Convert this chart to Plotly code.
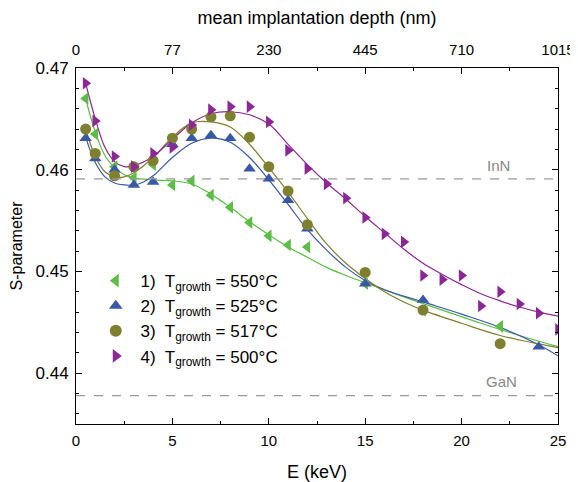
import plotly.graph_objects as go

# measured points (E in keV, S-parameter)
e_550 = [0.5, 1, 2, 3, 4, 5, 6, 7, 8, 9, 10, 11, 12, 15, 18, 22]
s_550 = [0.4670, 0.4635, 0.4603, 0.4592, 0.4605, 0.4585, 0.4589, 0.4575, 0.4563, 0.4548,
         0.4535, 0.4526, 0.4524, 0.4488, 0.4462, 0.4446]

e_525 = [0.5, 1, 2, 3, 4, 5, 6, 7, 8, 9, 10, 11, 12, 15, 18, 24]
s_525 = [0.4631, 0.4611, 0.4600, 0.4585, 0.4588, 0.4625, 0.4631, 0.4634, 0.4631, 0.4601,
         0.4591, 0.4570, 0.4542, 0.4488, 0.4472, 0.4426]

e_517 = [0.5, 1, 2, 3, 4, 5, 6, 7, 8, 9, 10, 11, 12, 15, 18, 22]
s_517 = [0.4640, 0.4616, 0.4594, 0.4603, 0.4609, 0.4631, 0.4640, 0.4652, 0.4653, 0.4632,
         0.4603, 0.4579, 0.4546, 0.4499, 0.4462, 0.4429]

e_500 = [0.5, 1, 2, 3, 4, 5, 6, 7, 8, 9, 10, 11, 12, 13, 14, 15, 16, 17, 18, 19, 20, 21,
         22, 23, 24, 25]
s_500 = [0.4685, 0.4648, 0.4613, 0.4603, 0.4616, 0.4622, 0.4644, 0.4659, 0.4662, 0.4662,
         0.4647, 0.4619, 0.4601, 0.4586, 0.4572, 0.4553, 0.4537, 0.4529, 0.4496, 0.4492,
         0.4496, 0.4466, 0.4480, 0.4468, 0.4459, 0.4443]

# fitted curves
fit_e_550 = [0.5, 1, 1.5, 2, 2.5, 3, 4, 5, 6, 7, 8, 9, 10, 11, 12, 13, 14, 15, 17, 19, 21, 23, 25]
fit_s_550 = [0.4670, 0.4637, 0.4614, 0.4602, 0.4595, 0.4592, 0.4590, 0.4589, 0.4586, 0.4576,
             0.4563, 0.4549, 0.4536, 0.4524, 0.4514, 0.4504, 0.4496, 0.4489, 0.4475, 0.4462,
             0.4449, 0.4437, 0.4426]

fit_e_525 = [0.5, 1, 1.5, 2, 2.5, 3, 3.5, 4, 5, 6, 7, 8, 9, 10, 11, 12, 13, 14, 15, 16, 18,
             20, 22, 24, 25]
fit_s_525 = [0.4632, 0.4607, 0.4593, 0.4587, 0.4585, 0.4585, 0.4588, 0.4594, 0.4612, 0.4626,
             0.4631, 0.4627, 0.4612, 0.4590, 0.4566, 0.4541, 0.4521, 0.4504, 0.4491, 0.4482,
             0.4470, 0.4458, 0.4445, 0.4428, 0.4417]

fit_e_517 = [0.5, 1, 1.5, 2, 2.5, 3, 4, 5, 6, 7, 8, 9, 10, 11, 12, 13, 14, 15, 16, 17, 18,
             20, 22, 25]
fit_s_517 = [0.4640, 0.4613, 0.4598, 0.4593, 0.4593, 0.4597, 0.4612, 0.4632, 0.4646, 0.4647,
             0.4642, 0.4625, 0.4602, 0.4578, 0.4552, 0.4527, 0.4508, 0.4493, 0.4480, 0.4470,
             0.4462, 0.4449, 0.4437, 0.4425]

fit_e_500 = [0.5, 1, 1.5, 2, 2.5, 3, 4, 5, 6, 7, 8, 9, 10, 11, 12, 13, 14, 15, 16, 17, 18,
             19, 20, 21, 22, 23, 24, 25]
fit_s_500 = [0.4685, 0.4650, 0.4622, 0.4608, 0.4603, 0.4604, 0.4613, 0.4630, 0.4646, 0.4655,
             0.4657, 0.4654, 0.4645, 0.4625, 0.4605, 0.4587, 0.4571, 0.4554, 0.4538, 0.4522,
             0.4508, 0.4497, 0.4487, 0.4478, 0.4471, 0.4465, 0.4460, 0.4456]

s_inn = 0.4591
s_gan = 0.43778

e_ticks = [0, 5, 10, 15, 20, 25]
depth_labels = ["0", "77", "230", "445", "710", "1015"]
s_ticks = [0.44, 0.45, 0.46, 0.47]

series = [
    ("\u00a01)  T<sub>growth</sub> = 550°C", "#5cbe46", "triangle-left", e_550, s_550, fit_e_550, fit_s_550),
    ("\u00a02)  T<sub>growth</sub> = 525°C", "#3a58a8", "triangle-up", e_525, s_525, fit_e_525, fit_s_525),
    ("\u00a03)  T<sub>growth</sub> = 517°C", "#7f7f30", "circle", e_517, s_517, fit_e_517, fit_s_517),
    ("\u00a04)  T<sub>growth</sub> = 500°C", "#8c2896", "triangle-right", e_500, s_500, fit_e_500, fit_s_500),
]

fig = go.Figure()

for name, col, sym, ex, sx, fx, fs in series:
    fig.add_trace(go.Scatter(x=fx, y=fs, mode="lines", line=dict(color=col, width=1.2, shape="spline"),
                             showlegend=False, hoverinfo="skip"))
for name, col, sym, ex, sx, fx, fs in series:
    fig.add_trace(go.Scatter(x=ex, y=sx, mode="markers", name=name,
                             marker=dict(symbol=sym, color=col, size=11, line=dict(width=0))))

# invisible traces so the top and right axes get drawn
fig.add_trace(go.Scatter(x=[0, 25], y=[s_gan, s_gan], xaxis="x2", mode="markers",
                         marker=dict(opacity=0), showlegend=False, hoverinfo="skip"))
fig.add_trace(go.Scatter(x=[0], y=[s_gan], yaxis="y2", mode="markers", marker=dict(opacity=0),
                         showlegend=False, hoverinfo="skip"))

for yv in [s_inn, s_gan]:
    fig.add_shape(type="line", xref="paper", x0=0, x1=1, yref="y", y0=yv, y1=yv,
                  line=dict(color="#999999", width=1.2, dash="dash"))

fig.add_annotation(x=22.6, y=s_inn, text="InN", showarrow=False, xanchor="right", yanchor="bottom",
                   yshift=3, font=dict(size=15, color="#888888"))
fig.add_annotation(x=23.0, y=s_gan, text="GaN", showarrow=False, xanchor="right", yanchor="bottom",
                   yshift=4, font=dict(size=15, color="#888888"))

axis_common = dict(showline=True, linecolor="black", linewidth=1, ticks="inside", ticklen=6,
                   tickcolor="black", showgrid=False, zeroline=False, mirror=False, automargin=False)
minor_x = dict(dtick=2.5, ticks="inside", ticklen=3, tickcolor="black")
minor_y = dict(dtick=0.002, ticks="inside", ticklen=3, tickcolor="black")

# page body has an 8px margin, so the figure is a bit smaller than the window
fig.update_layout(
    width=570, height=474,
    margin=dict(l=68, r=20, t=60, b=58),
    paper_bgcolor="white", plot_bgcolor="white",
    font=dict(family="Liberation Sans, Arial, sans-serif", size=15, color="black"),
    xaxis=dict(range=[0, 25], tickvals=e_ticks, title=dict(text="E (keV)", standoff=22),
               minor=minor_x, ticklabelstandoff=3, tickfont=dict(size=15), **axis_common),
    xaxis2=dict(range=[0, 25], overlaying="x", side="top", tickvals=e_ticks, ticktext=depth_labels,
                title=dict(text="mean implantation depth (nm)", standoff=11),
                minor=minor_x, ticklabelstandoff=6, tickfont=dict(size=15), **axis_common),
    yaxis=dict(range=[0.435, 0.47], tickvals=s_ticks,
               title=dict(text="S-parameter", standoff=15, font=dict(size=16)),
               minor=minor_y, ticklabelstandoff=3, tickfont=dict(size=17), **axis_common),
    yaxis2=dict(range=[0.435, 0.47], overlaying="y", side="right", tickvals=s_ticks,
                showticklabels=False, minor=minor_y, **axis_common),
    legend=dict(x=0.041, y=0.452, xanchor="left", yanchor="top", bgcolor="rgba(0,0,0,0)",
                font=dict(size=17), tracegroupgap=1, itemsizing="constant"),
    showlegend=True,
)

fig.write_html("out.html")
